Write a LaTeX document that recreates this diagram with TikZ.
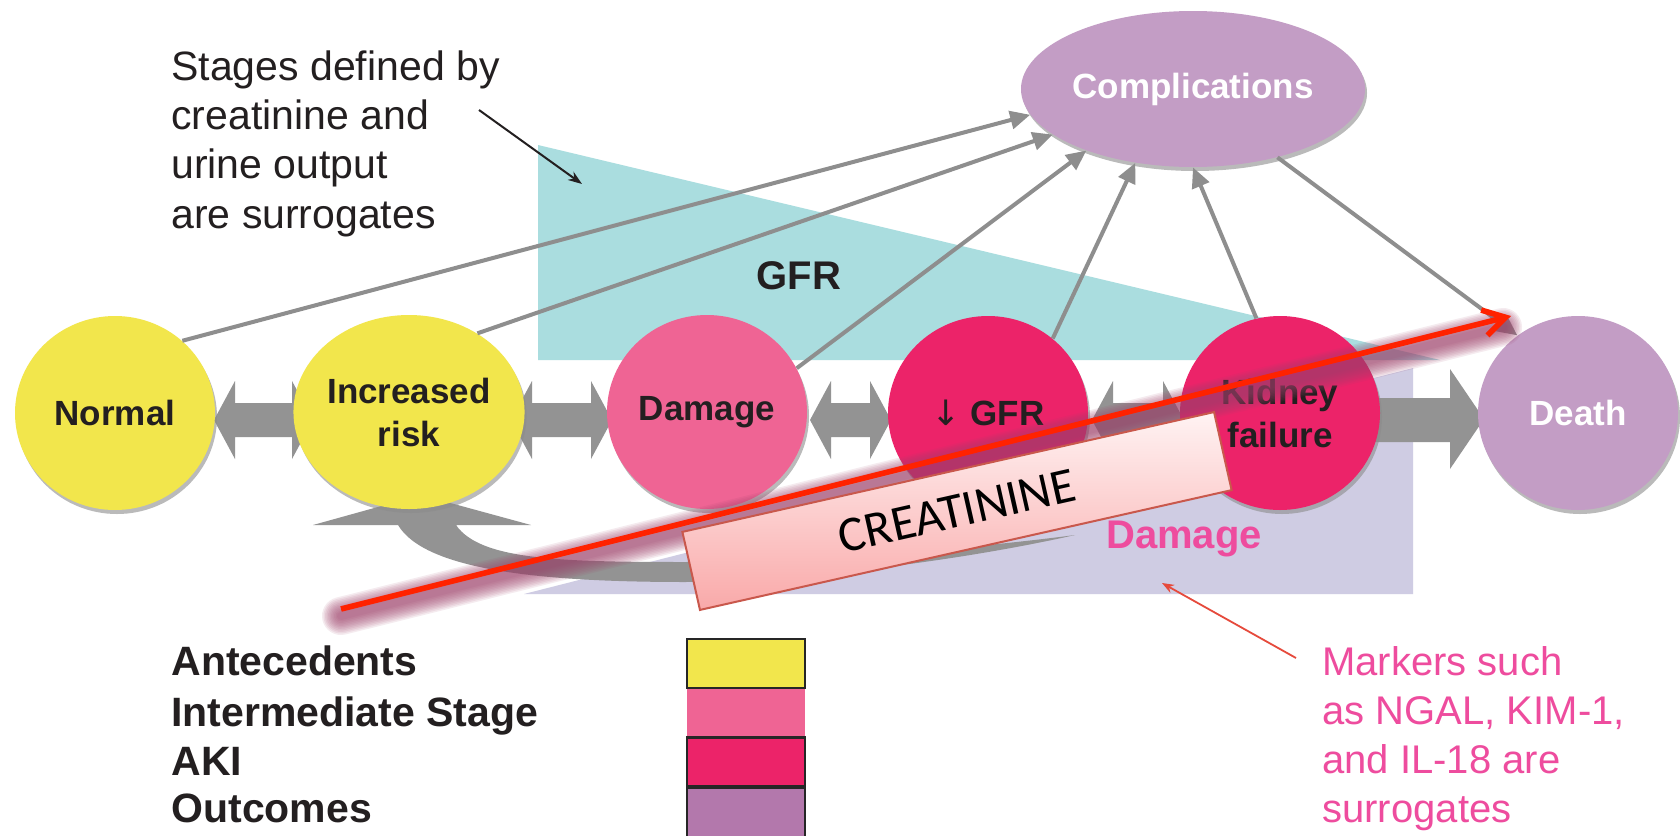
\documentclass[tikz,border=0pt]{standalone}
\usepackage{fontspec}
\setmainfont{Liberation Sans}
\newfontfamily\carlito{Carlito}
\newfontfamily\dejavu{DejaVu Sans}
\usetikzlibrary{shapes.geometric,arrows.meta,calc,shadows}
\definecolor{cyel}{HTML}{F2E64C}
\definecolor{cpink}{HTML}{EF6494}
\definecolor{cmag}{HTML}{EC2369}
\definecolor{cpur}{HTML}{C39DC5}
\definecolor{clegpur}{HTML}{B378AC}
\definecolor{cteal}{HTML}{AADDDF}
\definecolor{clav}{HTML}{CFCCE3}
\definecolor{cgray}{HTML}{939393}
\definecolor{clinegray}{HTML}{8E8E8E}
\definecolor{ctext}{HTML}{231F20}
\definecolor{cmark}{HTML}{EE4C9E}
\definecolor{cred}{HTML}{FF2200}
\definecolor{cshadow}{HTML}{9E416A}
\definecolor{cboxtop}{HTML}{FFF3F3}
\definecolor{cboxbot}{HTML}{F9A9A9}
\definecolor{cboxedge}{HTML}{C9584C}
\definecolor{cmarkarrow}{HTML}{E64A3C}
\newcommand\dblarr[2]{%
  \fill[cgray] (#1,420) -- ({#1+21},381) -- ({#1+21},403) -- ({#2-21},403) -- ({#2-21},381) -- (#2,420)
    -- ({#2-21},459) -- ({#2-21},437) -- ({#1+21},437) -- ({#1+21},459) -- cycle;}
\begin{document}
\begin{tikzpicture}[x=0.5pt,y=-0.5pt,
  stage/.style={ellipse, minimum width=100pt, minimum height=97pt, inner sep=0pt, align=center,
    font=\fontsize{17.5}{21.5}\selectfont\bfseries, text=ctext,
    general shadow={shadow xshift=1pt, shadow yshift=-2pt, fill=black!45, opacity=0.6}},
  conn/.style={draw=clinegray, line width=2pt, -{Triangle[length=10pt,width=9pt]}},
  annot/.style={anchor=base west, inner sep=0pt, font=\fontsize{20.5}{24.5}\selectfont, text=ctext},
  legtext/.style={anchor=base west, inner sep=0pt, font=\fontsize{20.5}{24.5}\selectfont\bfseries, text=ctext},
  marktext/.style={anchor=base west, inner sep=0pt, font=\fontsize{20}{24}\selectfont, text=cmark},
  legbox/.style={minimum width=59pt, minimum height=24.5pt, inner sep=0pt},
  legedge/.style={draw=black!85, line width=1.3pt}]
\useasboundingbox (0,0) rectangle (1680,835);
\fill[white] (0,0) rectangle (1680,835);

% background regions
\fill[cteal] (538,145) -- (538,360) -- (1440,360) -- cycle;
\fill[clav] (524,594) -- (1413,594) -- (1413,368) -- cycle;
\node[font=\fontsize{20}{24}\selectfont\bfseries, text=ctext] (gfrlab) at (799,276) {GFR};
\node[font=\fontsize{20}{24}\selectfont\bfseries, text=cmark] (damlab) at (1184,539) {Damage};

% stage positions
\path (115,413) coordinate (pn) (409,412) coordinate (pi) (707,412) coordinate (pd)
      (988,413) coordinate (pg) (1280,413) coordinate (pk) (1578,413) coordinate (pdeath)
      (1193,89) coordinate (pc);

% block arrows
\dblarr{214}{313}
\dblarr{511}{612}
\dblarr{810}{891}
\dblarr{1092}{1184}
\fill[cgray] (1370,398) -- (1450,398) -- (1450,369) -- (1484,419) -- (1450,469) -- (1450,442) -- (1370,442) -- cycle;

% curved recovery arrow
\fill[cgray] (313,525) -- (421,495) -- (531,525) -- (456,525)
  .. controls (480,560) and (560,562) .. (686,562)
  .. controls (850,560) and (1000,545) .. (1075,535)
  .. controls (1000,552) and (850,578) .. (686,582)
  .. controls (540,582) and (425,570) .. (398,525) -- cycle;

% circles
\node[stage, fill=cyel] (normal) at (pn) {Normal};
\node[stage, fill=cyel] (risk) at (pi) {Increased\\risk};
\node[stage, fill=cpink] (damage) at (pd) {Damage};
\node[stage, fill=cmag] (gfr) at (pg) {{\dejavu\mdseries ↓} GFR};
\node[stage, fill=cmag] (kidney) at (pk) {Kidney\\failure};
\node[stage, fill=cpur, text=white] (death) at (pdeath) {Death};
\node[stage, fill=cpur, text=white, minimum width=172pt, minimum height=78pt] (comp) at (pc) {Complications};

% connectors to complications
\draw[conn] (normal.47) -- (comp.189);
\draw[conn] (risk.49) -- (comp.198);
\draw[conn] (damage.26) -- (comp.210);
\draw[conn] (gfr.49) -- (comp.232);
\draw[conn] (kidney.104) -- (comp.270);
\draw[conn] (comp.321) -- (death.128);

% red creatinine arrow with blurred shadow
\coordinate (rs) at (341,609);
\coordinate (re) at (1511,316);
\foreach \w in {19,17.5,...,3}
  \draw[cshadow, line width=\w pt, opacity=0.1, line cap=round] ($(rs)+(0,7)$) -- ($(re)+(-8,11)$);
\node[rotate=12.7, minimum width=272.5pt, minimum height=40pt, draw=cboxedge, line width=1pt,
  top color=cboxtop, bottom color=cboxbot, inner sep=0pt,
  font=\carlito\fontsize{25}{30}\selectfont, text=black] (crea) at (957,511) {CREATININE};
\draw[cred, line width=2.8pt, -{Straight Barb[length=11pt,width=13pt]}] (rs) -- (re);

% stages annotation
\node[annot] (s1) at (171,80) {Stages defined by};
\node[annot] (s2) at (171,129) {creatinine and};
\node[annot] (s3) at (171,178) {urine output};
\node[annot] (s4) at (171,228) {are surrogates};
\coordinate (sa) at (479,110);
\coordinate (sb) at (582,184);
\draw[ctext, line width=1pt, -{Stealth[length=7pt,width=5pt]}] (sa) -- (sb);

% markers annotation
\node[marktext] (m1) at (1322,675) {Markers such};
\node[marktext] (m2) at (1322,724) {as NGAL, KIM-1,};
\node[marktext] (m3) at (1322,773) {and IL-18 are};
\node[marktext] (m4) at (1322,822) {surrogates};
\coordinate (ma) at (1296,658);
\coordinate (mb) at (1162,583);
\draw[cmarkarrow, line width=0.9pt, -{Stealth[length=6pt,width=4.5pt]}] (ma) -- (mb);

% legend
\node[legtext] (l1) at (171,675) {Antecedents};
\node[legtext] (l2) at (171,726) {Intermediate Stage};
\node[legtext] (l3) at (171,775) {AKI};
\node[legtext] (l4) at (171,822) {Outcomes};
\node[legbox, fill=cpink] (b2) at (746,712.5) {};
\node[legbox, legedge, fill=cyel] (b1) at (746,663.5) {};
\node[legbox, legedge, fill=cmag] (b3) at (746,762) {};
\node[legbox, legedge, fill=clegpur] (b4) at (746,812.5) {};
\end{tikzpicture}
\end{document}
